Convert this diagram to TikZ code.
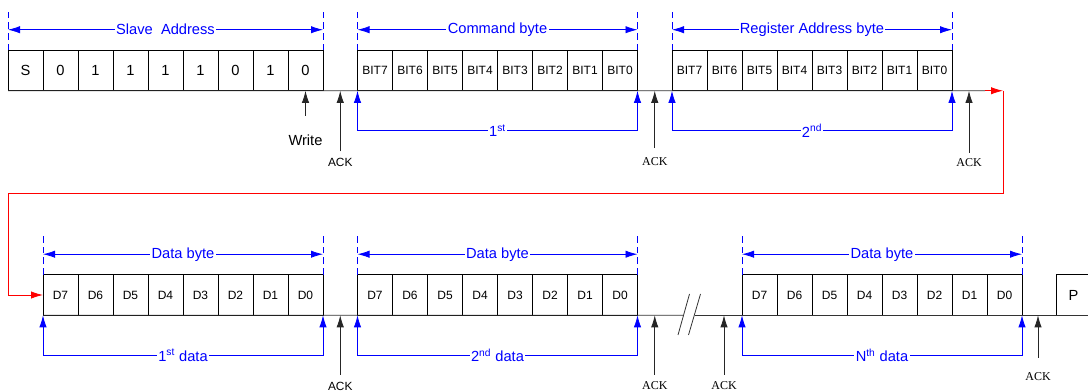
\documentclass[tikz,border=0pt]{standalone}
\usepackage{fontspec}
\setmainfont{Liberation Sans}
\newfontfamily\ackserif{Liberation Serif}
\usetikzlibrary{arrows.meta}

\begin{document}
\begin{tikzpicture}[x=0.75pt, y=-0.75pt, line width=0.6pt,
  cell/.style={draw, anchor=north west, minimum width=26.25pt,
               minimum height=30.4pt, inner sep=0pt, outer sep=0pt,
               font=\fontsize{9}{10}\selectfont},
  bigcell/.style={cell, font=\fontsize{11}{12}\selectfont},
  ttl/.style={text=blue, fill=white, inner sep=1pt, font=\fontsize{11}{12}\selectfont},
  guide/.style={blue, dash pattern=on 5pt off 3pt},
  dim/.style={blue, {Latex[length=9pt,width=5.5pt]}-{Latex[length=9pt,width=5.5pt]}},
  ar/.style={black!85, -{Latex[length=9pt,width=5.5pt]}},
  redar/.style={red, -{Latex[length=9pt,width=5.5pt]}},
  wire/.style={black!80},
  ackA/.style={font=\fontsize{8.9}{10}\selectfont, inner sep=0pt},
  ackB/.style={font=\ackserif\fontsize{9}{10}\selectfont, inner sep=0pt},
]
\useasboundingbox (0,0) rectangle (1088,391);

% first row: address, command, register
\foreach \t [count=\i from 0] in {S,0,1,1,1,1,0,1,0}
  \node[bigcell] (sa\i) at (8+35*\i,50.25) {\t};
\foreach \x/\nm in {357.5/cb, 672/rb}
  \foreach \b [count=\i from 0] in {7,6,...,0}
    \node[cell] (\nm\i) at (\x+35*\i,50.25) {BIT\b};

% second row: data bytes and stop
\foreach \x/\nm in {43/da, 357.5/db, 742/dc}
  \foreach \b [count=\i from 0] in {7,6,...,0}
    \node[cell] (\nm\i) at (\x+35*\i,274.75) {D\b};
\node[bigcell] (stop) at (1056,274.75) {P};

% bus lines
\coordinate (r1end) at (985,90.75);
\coordinate (turn) at (1003,90.75);
\coordinate (brkA) at (683,315.25);
\coordinate (brkB) at (695,315.25);
\coordinate (r2end) at (1088,315.25);
\draw[wire] (sa0.south west) -- (r1end);
\draw[wire] (da0.south west) -- (brkA);
\draw[wire] (brkB) -- (r2end);
\draw[wire] (678,335) -- (689.5,294);
\draw[wire] (688.5,335) -- (700.5,294);
\draw[redar] (r1end) -- (turn);
\draw[redar] (turn) |- (8,193) |- (da0.west);

% byte brackets above
\foreach \f/\l/\t in {sa0/sa8/{Slave\ \ Address}, cb0/cb7/{Command byte},
    rb0/rb7/{Register Address byte}, da0/da7/{Data byte},
    db0/db7/{Data byte}, dc0/dc7/{Data byte}} {
  \draw[guide] (\f.north west) -- ++(0,-42);
  \draw[guide] (\l.north east) -- ++(0,-42);
  \draw[dim] ([yshift=15.4pt]\f.north west) -- node[ttl] {\t} ([yshift=15.4pt]\l.north east);
}

% byte order below
\foreach \f/\l/\t in {cb0/cb7/{1\textsuperscript{st}}, rb0/rb7/{2\textsuperscript{nd}},
    da0/da7/{1\textsuperscript{st} data}, db0/db7/{2\textsuperscript{nd} data},
    dc0/dc7/{N\textsuperscript{th} data}}
  \draw[dim] (\f.south west) -- ++(0,40) -| node[ttl, pos=0.25] {\t} (\l.south east);

% write bit and acknowledges
\node[font=\fontsize{11}{12}\selectfont, inner sep=0pt] (wr) at (305.5,140) {Write};
\draw[ar] ([yshift=14pt]wr.north) -- (sa8.south);
\foreach \x/\y/\st/\g/\row [count=\k] in {340.25/162/ackA/4.5/sa0, 654.75/162/ackB/7/sa0,
    969/163/ackB/4.5/sa0, 340.25/386/ackA/5/da0, 654.75/386/ackB/5/da0,
    724/386/ackB/5/da0, 1038/377/ackB/11/da0} {
  \node[\st] (ack\k) at (\x,\y) {ACK};
  \draw[ar] ([yshift=\g pt]ack\k.north) -- (ack\k.north |- \row.south);
}
\end{tikzpicture}
\end{document}
